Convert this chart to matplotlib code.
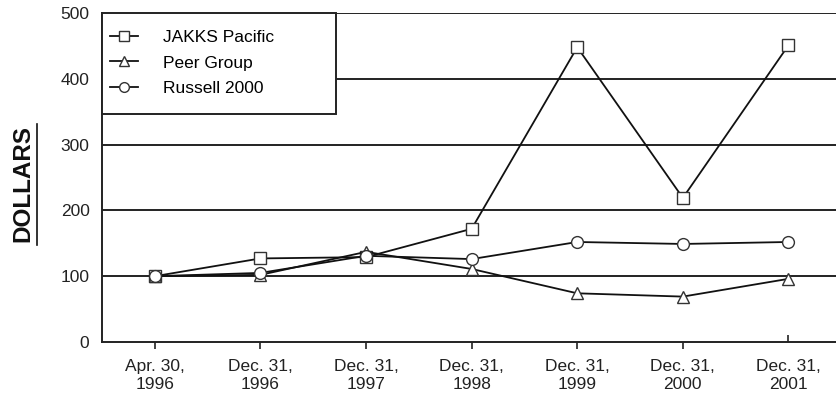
import matplotlib
matplotlib.use("Agg")
import matplotlib.pyplot as plt
from matplotlib.lines import Line2D
from matplotlib.patches import Rectangle
from matplotlib.markers import TICKUP

plt.rcParams['font.family'] = ['Liberation Sans', 'DejaVu Sans']

categories = ["Apr. 30,\n1996", "Dec. 31,\n1996", "Dec. 31,\n1997", "Dec. 31,\n1998",
              "Dec. 31,\n1999", "Dec. 31,\n2000", "Dec. 31,\n2001"]
jakks = [100, 127, 129, 172, 448, 219, 451]
peer = [100, 102, 137, 111, 74, 69, 96]
russell = [100, 105, 131, 126, 152, 149, 152]
yticks = [0, 100, 200, 300, 400, 500]

W, H = 836, 401
fig = plt.figure(figsize=(W / 100, H / 100), dpi=100)
ax = fig.add_axes([102 / W, 1 - 342 / H, 1 - 102 / W, (342 - 13) / H])

x = list(range(len(categories)))
ax.set_xlim(-0.5, 6.45)
ax.set_ylim(0, 500)

for v in yticks[1:]:
    ax.axhline(v, color='#222222', lw=1.4, zorder=1)

kw = dict(color='#111111', lw=1.3, markersize=8.5, markerfacecolor='white',
          markeredgecolor='#333333', markeredgewidth=1.0, zorder=3)
ax.plot(x, jakks, marker='s', label='JAKKS Pacific', **kw)
ax.plot(x, peer, marker='^', label='Peer Group', **kw)
ax.plot(x, russell, marker='o', label='Russell 2000', **kw)

ax.set_xticks(x)
ax.set_xticklabels(categories, fontsize=12.5, color='#222222', linespacing=1.3)
ax.set_yticks(yticks)
ax.set_yticklabels([str(v) for v in yticks], fontsize=12.5, color='#222222')
ax.tick_params(axis='y', length=0, pad=9)
ax.tick_params(axis='x', length=5, width=1.2, direction='out', pad=7, color='#222222')
ax.xaxis.get_major_ticks()[-1].tick1line.set_marker(TICKUP)

for s in ['top', 'right']:
    ax.spines[s].set_visible(False)
for s in ['left', 'bottom']:
    ax.spines[s].set_linewidth(1.4)
    ax.spines[s].set_color('#222222')

# legend box
box_w = (336 - 102) / (W - 102)
box_h = (114 - 13) / (342 - 13)
ax.add_patch(Rectangle((0, 1 - box_h), box_w, box_h, transform=ax.transAxes,
                       facecolor='white', edgecolor='#222222', lw=1.4, zorder=4,
                       clip_on=False))
leg = ax.legend(loc='upper left', bbox_to_anchor=(0.0, 1.0 - 9 / 329), fontsize=12.5,
                frameon=False, borderaxespad=0, handlelength=1.6,
                borderpad=0.45, labelspacing=0.6, handletextpad=1.45)
leg.set_zorder(5)
for h in leg.legend_handles:
    h.set_markersize(7)

fig.text(23 / W, 1 - 183 / H, "DOLLARS", rotation=90, fontsize=17.5, fontweight='bold',
         ha='center', va='center', color='#111111')
fig.add_artist(Line2D([37 / W, 37 / W], [1 - 245 / H, 1 - 124 / H],
                      transform=fig.transFigure, color='#111111', lw=1.2))

fig.savefig("out.png", dpi=100)
